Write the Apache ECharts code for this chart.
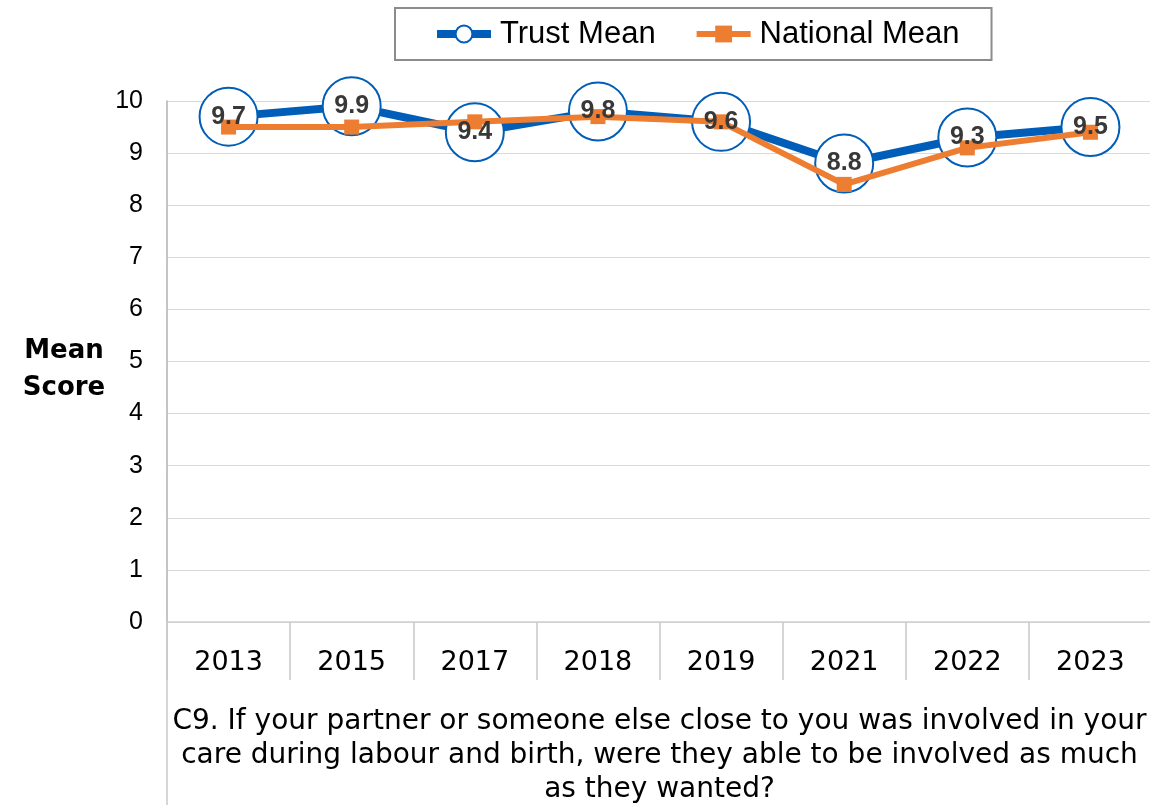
<!DOCTYPE html>
<html>
<head>
<meta charset="utf-8">
<script src="https://cdn.jsdelivr.net/npm/echarts@6/dist/echarts.min.js"></script>
<style>
html,body{margin:0;padding:0;background:#fff;}
#chart{width:1150px;height:805px;}
</style>
</head>
<body>
<div id="chart"></div>
<script>
var categories = ['2013','2015','2017','2018','2019','2021','2022','2023'];
var trustMean = [9.7, 9.9, 9.4, 9.8, 9.6, 8.8, 9.3, 9.5];
var nationalMean = [9.5, 9.5, 9.6, 9.7, 9.6, 8.4, 9.1, 9.4];
var yTicks = [0,1,2,3,4,5,6,7,8,9,10];
var yAxisTitle = 'Mean\nScore';
var questionText = 'C9. If your partner or someone else close to you was involved in your\ncare during labour and birth, were they able to be involved as much\nas they wanted?';

var ARIAL = 'Liberation Sans, Arial, sans-serif';
var WIDE = 'DejaVu Sans, Liberation Sans, sans-serif';
var chart = echarts.init(document.getElementById('chart'), null, {renderer:'canvas'});
var option = {
  animation: false,
  textStyle: {fontFamily: ARIAL},
  title: {
    text: yAxisTitle,
    left: 59, top: 328, textAlign: 'center',
    textStyle: {fontSize: 26, fontWeight: 'bold', color: '#000', lineHeight: 37, fontFamily: WIDE}
  },
  legend: {
    data: [
      {name: 'Trust Mean', lineStyle: {width: 8, color: '#005EB8'}, itemStyle: {color: '#ffffff', borderColor: '#005EB8', borderWidth: 2}},
      {name: 'National Mean', lineStyle: {width: 6, color: '#ED7D31'}, itemStyle: {color: '#ED7D31'}}
    ],
    left: 395, top: 8,
    padding: [9, 32, 9, 38],
    borderColor: '#8c8c8c', borderWidth: 2,
    itemWidth: 54, itemHeight: 21, itemGap: 38,
    textStyle: {fontSize: 31, color: '#000', fontFamily: ARIAL, lineHeight: 34, padding: [0,0,0,4]}
  },
  grid: {left: 167, right: -2, top: 101, bottom: 183, containLabel: false, outerBoundsMode: 'none'},
  xAxis: {
    type: 'category',
    data: categories,
    boundaryGap: true,
    axisLine: {show: true, lineStyle: {color: '#d0d0d0', width: 1.5}},
    axisTick: {show: true, length: 58, lineStyle: {color: '#c8c8c8', width: 1.5}},
    axisLabel: {fontSize: 27, color: '#000', margin: 27, fontFamily: WIDE},
    name: questionText,
    nameLocation: 'middle',
    nameGap: 83,
    nameTextStyle: {fontSize: 28, color: '#000', lineHeight: 34, align: 'center', fontFamily: WIDE}
  },
  yAxis: {
    type: 'value',
    min: 0, max: 10, interval: 1,
    axisLine: {show: true, lineStyle: {color: '#b0b0b0', width: 1.5}},
    axisTick: {show: false},
    splitLine: {show: true, lineStyle: {color: '#d9d9d9', width: 1.2}},
    axisLabel: {fontSize: 25, color: '#000', margin: 24, fontFamily: ARIAL,
      formatter: function(v){ return yTicks.indexOf(v) >= 0 ? String(v) : ''; }}
  },
  graphic: [{
    type: 'line', silent: true,
    shape: {x1: 167, y1: 622, x2: 167, y2: 805},
    style: {stroke: '#c8c8c8', lineWidth: 1.5}
  }],
  series: [
    {
      name: 'Trust Mean', type: 'line', data: trustMean, z: 2,
      symbol: 'circle', symbolSize: 58,
      lineStyle: {color: '#005EB8', width: 8},
      itemStyle: {color: '#ffffff', borderColor: '#005EB8', borderWidth: 2},
      label: {show: false}
    },
    {
      name: 'National Mean', type: 'line', data: nationalMean, z: 3,
      symbol: 'rect', symbolSize: 15,
      lineStyle: {color: '#ED7D31', width: 6},
      itemStyle: {color: '#ED7D31'},
      label: {show: false}
    },
    {
      name: 'Trust Labels', type: 'scatter', data: trustMean, z: 5,
      symbolSize: 2, itemStyle: {color: 'rgba(0,0,0,0)'},
      label: {show: true, position: 'inside', fontSize: 25, fontWeight: 'bold', color: '#383838',
        textBorderWidth: 0, opacity: 1, fontFamily: ARIAL,
        formatter: function(p){ return p.value.toFixed(1); }},
      silent: true
    }
  ]
};
chart.setOption(option);
</script>
</body>
</html>
